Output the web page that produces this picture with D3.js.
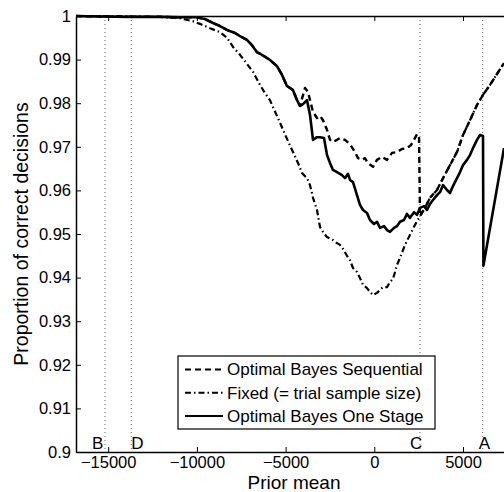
<!DOCTYPE html>
<html>
<head>
<meta charset="utf-8">
<script src="https://cdn.jsdelivr.net/npm/d3@7"></script>
<style>
  body { margin: 0; background: #fff; }
  svg { font-family: "Liberation Sans", Arial, sans-serif; }
</style>
</head>
<body>
<svg id="main-svg" width="504" height="492"></svg>
<script>
// Optimal Bayes One Stage (solid)
const priorOneStage = [-16815, -15462, -13771, -12080, -10952, -10050, -9543, -9092, -8697, -8303,
  -7852, -7570, -7176, -6894, -6612, -6331, -5880, -5485, -5203, -4921, -4752, -4583, -4357, -4188,
  -4019, -3793, -3624, -3455, -3230, -3061, -2835, -2666, -2497, -2328, -2103, -1821, -1652, -1483,
  -1370, -1201, -976, -807, -637, -412, -243, -17, 152, 321, 547, 716, 885, 1110, 1280, 1449, 1674,
  1843, 2012, 2238, 2407, 2576, 2802, 2971, 3140, 3309, 3535, 3704, 3873, 4098, 4267, 4436, 4662,
  4831, 5000, 5226, 5395, 5564, 5789, 5959, 6128, 6150, 7311];
const propOneStage = [1.0000, 0.9999, 0.9998, 0.9998, 0.9997, 0.9997, 0.9993, 0.9984, 0.9977, 0.9968,
  0.9961, 0.9954, 0.9945, 0.9933, 0.9917, 0.9911, 0.9899, 0.9885, 0.9865, 0.9839, 0.9835, 0.9830, 0.9807, 0.9794,
  0.9798, 0.9807, 0.9773, 0.9716, 0.9722, 0.9722, 0.9720, 0.9681, 0.9663, 0.9647, 0.9642, 0.9635, 0.9628, 0.9638,
  0.9624, 0.9619, 0.9589, 0.9567, 0.9555, 0.9548, 0.9532, 0.9523, 0.9528, 0.9514, 0.9518, 0.9509, 0.9505, 0.9514, 0.9518, 0.9528, 0.9532,
  0.9546, 0.9537, 0.9550, 0.9544, 0.9560, 0.9564, 0.9555, 0.9569, 0.9578, 0.9589, 0.9596, 0.9612, 0.9601, 0.9594, 0.9610, 0.9628,
  0.9642, 0.9658, 0.9670, 0.9681, 0.9697, 0.9716, 0.9727, 0.9725, 0.9427, 0.9697];

// Optimal Bayes Sequential (dashed), the part where it leaves the other two curves
const priorSeq = [-3906, -3736, -3624, -3455, -3230, -3061, -2892, -2666, -2497, -2328, -2103, -1934,
  -1652, -1370, -1088, -919, -694, -525, -356, -73, 152, 434, 716, 998, 1280, 1562, 1843, 2069, 2238, 2407, 2520];
const propSeq = [0.9835, 0.9826, 0.9807, 0.9780, 0.9766, 0.9771, 0.9761, 0.9739, 0.9716, 0.9711, 0.9716, 0.9720,
  0.9716, 0.9706, 0.9688, 0.9674, 0.9670, 0.9674, 0.9662, 0.9654, 0.9670, 0.9677, 0.9670, 0.9686, 0.9688, 0.9695, 0.9697, 0.9704, 0.9716, 0.9729, 0.9725];

// Fixed (= trial sample size) (dash-dot)
const priorFixed = [-16815, -13771, -12080, -10952, -10220, -9825, -9261, -8697, -8303, -7965, -7570,
  -7176, -6838, -6443, -6161, -5880, -5710, -5429, -5147, -4865, -4583, -4301, -4076, -3793, -3624,
  -3455, -3230, -3061, -2892, -2666, -2328, -2103, -1934, -1765, -1539, -1370, -1201, -976, -807,
  -637, -412, -243, -73, 152, 321, 490, 716, 885, 1054, 1280, 1449, 1731, 2012, 2294, 2576, 2858,
  3140, 3535, 3873, 4267, 4662, 5000, 5395, 5789, 6128, 6522, 6917, 7311];
const propFixed = [1.0000, 0.9999, 0.9998, 0.9995, 0.9988, 0.9982, 0.9972, 0.9963, 0.9950, 0.9929, 0.9911,
  0.9890, 0.9872, 0.9842, 0.9823, 0.9807, 0.9791, 0.9766, 0.9739, 0.9713, 0.9688, 0.9663, 0.9640, 0.9628, 0.9612,
  0.9583, 0.9555, 0.9516, 0.9505, 0.9493, 0.9486, 0.9479, 0.9475, 0.9466, 0.9450, 0.9440, 0.9422, 0.9413, 0.9399,
  0.9383, 0.9376, 0.9367, 0.9360, 0.9365, 0.9372, 0.9378, 0.9378, 0.9390, 0.9397, 0.9429, 0.9445, 0.9475, 0.9498, 0.9521, 0.9541, 0.9560,
  0.9583, 0.9601, 0.9628, 0.9658, 0.9688, 0.9727, 0.9761, 0.9796, 0.9819, 0.9842, 0.9867, 0.9892];

// marked prior means (dotted verticals)
const markNames = ['B', 'D', 'C', 'A'];
const markValues = [-15180, -13700, 2575, 6110];

const xTicks = [-15000, -10000, -5000, 0, 5000];
const yTicks = [0.9, 0.91, 0.92, 0.93, 0.94, 0.95, 0.96, 0.97, 0.98, 0.99, 1];

const legendNames = ['Optimal Bayes Sequential', 'Fixed (= trial sample size)', 'Optimal Bayes One Stage'];

const svg = d3.select('#main-svg');
const plotLeft = 76, plotTop = 16, plotBottom = 452, plotRight = 504;

const x = d3.scaleLinear().domain([-16815, 7311]).range([plotLeft, plotRight]);
const y = d3.scaleLinear().domain([0.9, 1]).range([plotBottom, plotTop]);

svg.append('clipPath').attr('id', 'plot-clip')
  .append('rect').attr('x', plotLeft).attr('y', plotTop - 2)
  .attr('width', plotRight - plotLeft + 10).attr('height', plotBottom - plotTop + 4);

// build the series
const oneStage = priorOneStage.map((p, i) => [p, propOneStage[i]]);
const fixed = priorFixed.map((p, i) => [p, propFixed[i]]);
const sequential = oneStage.filter(d => d[0] <= -4188)
  .concat(priorSeq.map((p, i) => [p, propSeq[i]]))
  .concat(fixed.filter(d => d[0] >= 2576));

// dotted marker lines
svg.append('g').selectAll('line')
  .data(markValues)
  .enter()
  .append('line')
  .attr('x1', d => x(d)).attr('x2', d => x(d))
  .attr('y1', plotTop).attr('y2', plotBottom)
  .attr('stroke', '#666')
  .attr('stroke-width', 1)
  .attr('stroke-dasharray', '1,3');

// marker letters
const letterDx = [-13, 0, -10, -4];
svg.append('g').selectAll('text')
  .data(markNames)
  .enter()
  .append('text')
  .attr('x', (d, i) => x(markValues[i]) + letterDx[i])
  .attr('y', 449)
  .attr('font-size', 17)
  .text(d => d);

const line = d3.line().x(d => x(d[0])).y(d => y(d[1]));
const plot = svg.append('g').attr('clip-path', 'url(#plot-clip)');

const styles = [
  { data: fixed, dash: '6,3,1.5,3', width: 2.2 },
  { data: sequential, dash: '6,4', width: 2.4 },
  { data: oneStage, dash: null, width: 2.6 },
];
plot.selectAll('path')
  .data(styles)
  .enter()
  .append('path')
  .attr('d', d => line(d.data))
  .attr('fill', 'none')
  .attr('stroke', 'black')
  .attr('stroke-width', d => d.width)
  .attr('stroke-dasharray', d => d.dash)
  .attr('stroke-linejoin', 'round');

// axes, ticks pointing inward
const xAxis = svg.append('g')
  .attr('transform', `translate(0,${plotBottom})`)
  .call(d3.axisBottom(x).tickValues(xTicks).tickSizeInner(-5).tickSizeOuter(0)
    .tickPadding(4).tickFormat(d3.format('d')));
const xTop = svg.append('g')
  .attr('transform', `translate(0,${plotTop})`)
  .call(d3.axisTop(x).tickValues(xTicks).tickSizeInner(-5).tickSizeOuter(0).tickFormat(''));
const yAxis = svg.append('g')
  .attr('transform', `translate(${plotLeft},0)`)
  .call(d3.axisLeft(y).tickValues(yTicks).tickSizeInner(-5).tickSizeOuter(0)
    .tickPadding(5).tickFormat(d => String(+d.toFixed(2))));

[xAxis, xTop, yAxis].forEach(g => {
  g.select('.domain').attr('stroke-width', 1.5);
  g.selectAll('text').attr('font-size', 16.5).attr('fill', 'black').attr('font-family', '"Liberation Sans", Arial, sans-serif');
});

svg.append('text')
  .attr('x', 294).attr('y', 489)
  .attr('text-anchor', 'middle')
  .attr('font-size', 19)
  .text('Prior mean');

svg.append('text')
  .attr('transform', `translate(28,${(plotTop + plotBottom) / 2}) rotate(-90)`)
  .attr('text-anchor', 'middle')
  .attr('font-size', 19.5)
  .text('Proportion of correct decisions');

// legend
const legend = svg.append('g');
legend.append('rect')
  .attr('x', 178).attr('y', 356).attr('width', 257).attr('height', 73)
  .attr('fill', 'white').attr('stroke', 'black').attr('stroke-width', 1.2);
const rowY = d3.scalePoint().domain(legendNames).range([369.5, 416]);
const entries = legend.selectAll('g.entry')
  .data(legendNames)
  .enter()
  .append('g').attr('class', 'entry');
entries.append('line')
  .attr('x1', 185).attr('x2', 223)
  .attr('y1', d => rowY(d)).attr('y2', d => rowY(d))
  .attr('stroke', 'black')
  .attr('stroke-width', 2)
  .attr('stroke-dasharray', (d, i) => [styles[1].dash, styles[0].dash, null][i]);
entries.append('text')
  .attr('x', 227).attr('y', d => rowY(d))
  .attr('dy', '0.35em')
  .attr('font-size', 17)
  .text(d => d);
</script>
</body>
</html>
